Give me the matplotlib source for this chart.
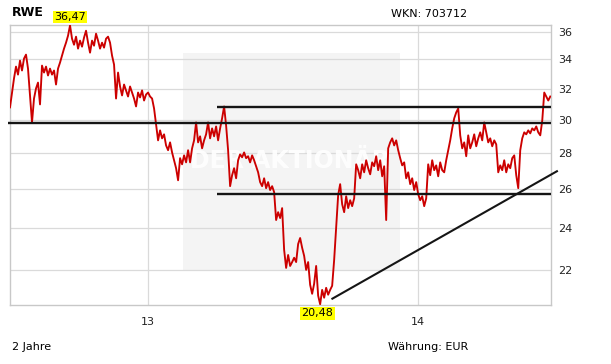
import pandas as pd
import numpy as np
import matplotlib.pyplot as plt
from matplotlib.ticker import NullLocator

# RWE closing prices (about one value every 2.7 days)
prices = [
    30.78, 31.74, 32.68, 33.49, 32.94, 33.91, 33.22, 34.05, 34.33, 33.35,
    31.55, 29.84, 31.35, 32.01, 32.40, 30.97, 33.56, 33.08, 33.49, 32.88,
    33.35, 32.94, 33.22, 32.27, 33.35, 33.77, 34.26, 34.76, 35.19, 35.70,
    36.47, 35.48, 35.04, 35.63, 34.76, 35.34, 34.90, 35.56, 36.07, 35.19,
    34.47, 35.34, 34.97, 35.85, 35.34, 34.76, 35.19, 34.83, 35.48, 35.63,
    35.19, 34.26, 33.63, 31.35, 33.08, 32.14, 31.55, 32.27, 31.88, 31.48,
    32.14, 31.74, 31.35, 30.84, 31.74, 31.42, 31.88, 31.22, 31.61, 31.74,
    31.48, 31.35, 30.71, 29.71, 28.75, 29.35, 28.87, 29.11, 28.45, 28.17,
    28.63, 28.04, 27.59, 27.14, 26.47, 27.71, 27.36, 27.87, 27.47, 28.17,
    27.47, 28.28, 28.75, 29.84, 28.63, 28.99, 28.28, 28.75, 29.11, 29.84,
    28.87, 29.47, 28.99, 29.59, 28.75, 29.47, 30.09, 30.84, 29.65, 28.17,
    26.15, 26.75, 27.14, 26.58, 27.59, 27.93, 27.76, 28.04, 27.71, 27.82,
    27.47, 27.87, 27.59, 27.25, 26.91, 26.37, 26.15, 26.58, 26.04, 26.37,
    25.94, 26.15, 25.83, 24.38, 24.78, 24.48, 24.99, 22.92, 22.08, 22.68,
    22.17, 22.35, 22.55, 22.35, 23.20, 23.49, 23.02, 22.64, 21.99, 22.35,
    21.32, 20.93, 21.37, 22.17, 20.85, 20.48, 21.10, 20.76, 21.19, 20.89,
    21.10, 21.28, 22.45, 23.98, 25.67, 26.26, 25.19, 24.78, 25.61, 24.99,
    25.40, 25.09, 25.50, 27.36, 27.03, 26.58, 27.36, 26.91, 27.59, 27.14,
    26.80, 27.47, 27.25, 27.82, 27.03, 27.59, 26.69, 27.25, 24.38, 28.28,
    28.63, 28.87, 28.45, 28.75, 28.17, 27.71, 27.30, 27.47, 26.58, 26.91,
    26.26, 26.58, 25.94, 26.37, 25.72, 25.40, 25.61, 25.09, 25.50, 27.36,
    26.75, 27.59, 27.03, 27.30, 26.69, 27.47, 27.03, 26.91, 27.59, 28.17,
    28.75, 29.47, 30.09, 30.46, 30.71, 29.05, 28.28, 28.63, 27.82, 29.05,
    28.28, 28.63, 29.11, 28.40, 28.87, 29.23, 28.75, 29.84, 29.23, 28.63,
    28.87, 28.40, 28.75, 28.51, 26.91, 27.30, 27.03, 27.59, 26.91, 27.36,
    27.14, 27.71, 27.87, 26.75, 26.04, 28.17, 28.87, 29.23, 29.11, 29.35,
    29.17, 29.47, 29.35, 29.59, 29.23, 29.05, 29.96, 31.74, 31.48, 31.22,
    31.48,
]
start, end = '2012-06-29', '2014-06-28'
dates = pd.date_range(start, end, periods=len(prices))

# drawn support / resistance lines
levels = [29.82, 30.83, 25.74]
level_start = ['2012-06-26', '2013-04-04', '2013-04-04']
trend_dates = ['2013-09-07', '2014-07-07']
trend_vals = [20.72, 26.97]

yticks = [22, 24, 26, 28, 30, 32, 34, 36]
xticks = ['2013-01-01', '2014-01-01']
xlabels = ['13', '14']

fig = plt.figure(figsize=(6.11, 3.64), dpi=100)
ax = fig.add_axes([10/611, 59/364, 541/611, 280/364])
ax.set_yscale('log')
ax.set_ylim(20.45, 36.5)
ax.set_xlim(pd.Timestamp(start), pd.Timestamp('2014-06-29'))

# watermark
ax.axvspan(pd.Timestamp('2013-02-17'), pd.Timestamp('2013-12-07'), ymin=0.125, ymax=0.9,
           color='#f4f4f4', lw=0, zorder=0)
ax.text(0.518, 0.514, 'DER AKTIONÄR', transform=ax.transAxes, ha='center', va='center',
        fontsize=17, fontweight='bold', color='white', alpha=0.9, zorder=1)

ax.plot(dates, prices, color='#cc0000', lw=1.35, zorder=3)

for lvl, s in zip(levels, level_start):
    ax.plot([pd.Timestamp(s), pd.Timestamp('2014-06-29')], [lvl, lvl],
            color='#151515', lw=1.7, zorder=4, clip_on=False, solid_capstyle='butt')
ax.plot(pd.to_datetime(trend_dates), trend_vals, color='#151515', lw=1.5, zorder=4, clip_on=False)

# high / low labels
i_hi = int(np.argmax(prices))
i_lo = int(np.argmin(prices))
box = dict(boxstyle='square,pad=0.12', fc='#ffff00', ec='none')
ax.annotate(f'{prices[i_hi]:.2f}'.replace('.', ','), xy=(dates[i_hi], prices[i_hi]),
            xytext=(0, 6), textcoords='offset points', ha='center', va='center',
            fontsize=8, bbox=box, annotation_clip=False, zorder=6)
ax.annotate(f'{prices[i_lo]:.2f}'.replace('.', ','), xy=(dates[i_lo], prices[i_lo]),
            xytext=(-2, -6.5), textcoords='offset points', ha='center', va='center',
            fontsize=8, bbox=box, annotation_clip=False, zorder=6)

ax.yaxis.tick_right()
ax.set_yticks(yticks)
ax.set_yticklabels([str(v) for v in yticks])
ax.yaxis.set_minor_locator(NullLocator())
ax.set_xticks(pd.to_datetime(xticks))
ax.set_xticklabels(xlabels)
ax.tick_params(axis='y', length=0, pad=5, labelsize=8, colors='#222222')
ax.tick_params(axis='x', length=0, pad=8.5, labelsize=8, colors='#222222')
ax.grid(True, color='#dadada', lw=0.9, zorder=0)
ax.set_axisbelow(True)
for sp in ax.spines.values():
    sp.set_color('#c8c8c8')
    sp.set_linewidth(1)

fig.text(12/611, 1 - 13/364, 'RWE', fontsize=9, fontweight='bold', va='center')
fig.text(429/611, 1 - 14/364, 'WKN: 703712', fontsize=8, ha='center', va='center')
fig.text(12/611, 1 - 347/364, '2 Jahre', fontsize=8, va='center')
fig.text(428/611, 1 - 347/364, 'Währung: EUR', fontsize=8, ha='center', va='center')

fig.savefig('out.png', dpi=100)
